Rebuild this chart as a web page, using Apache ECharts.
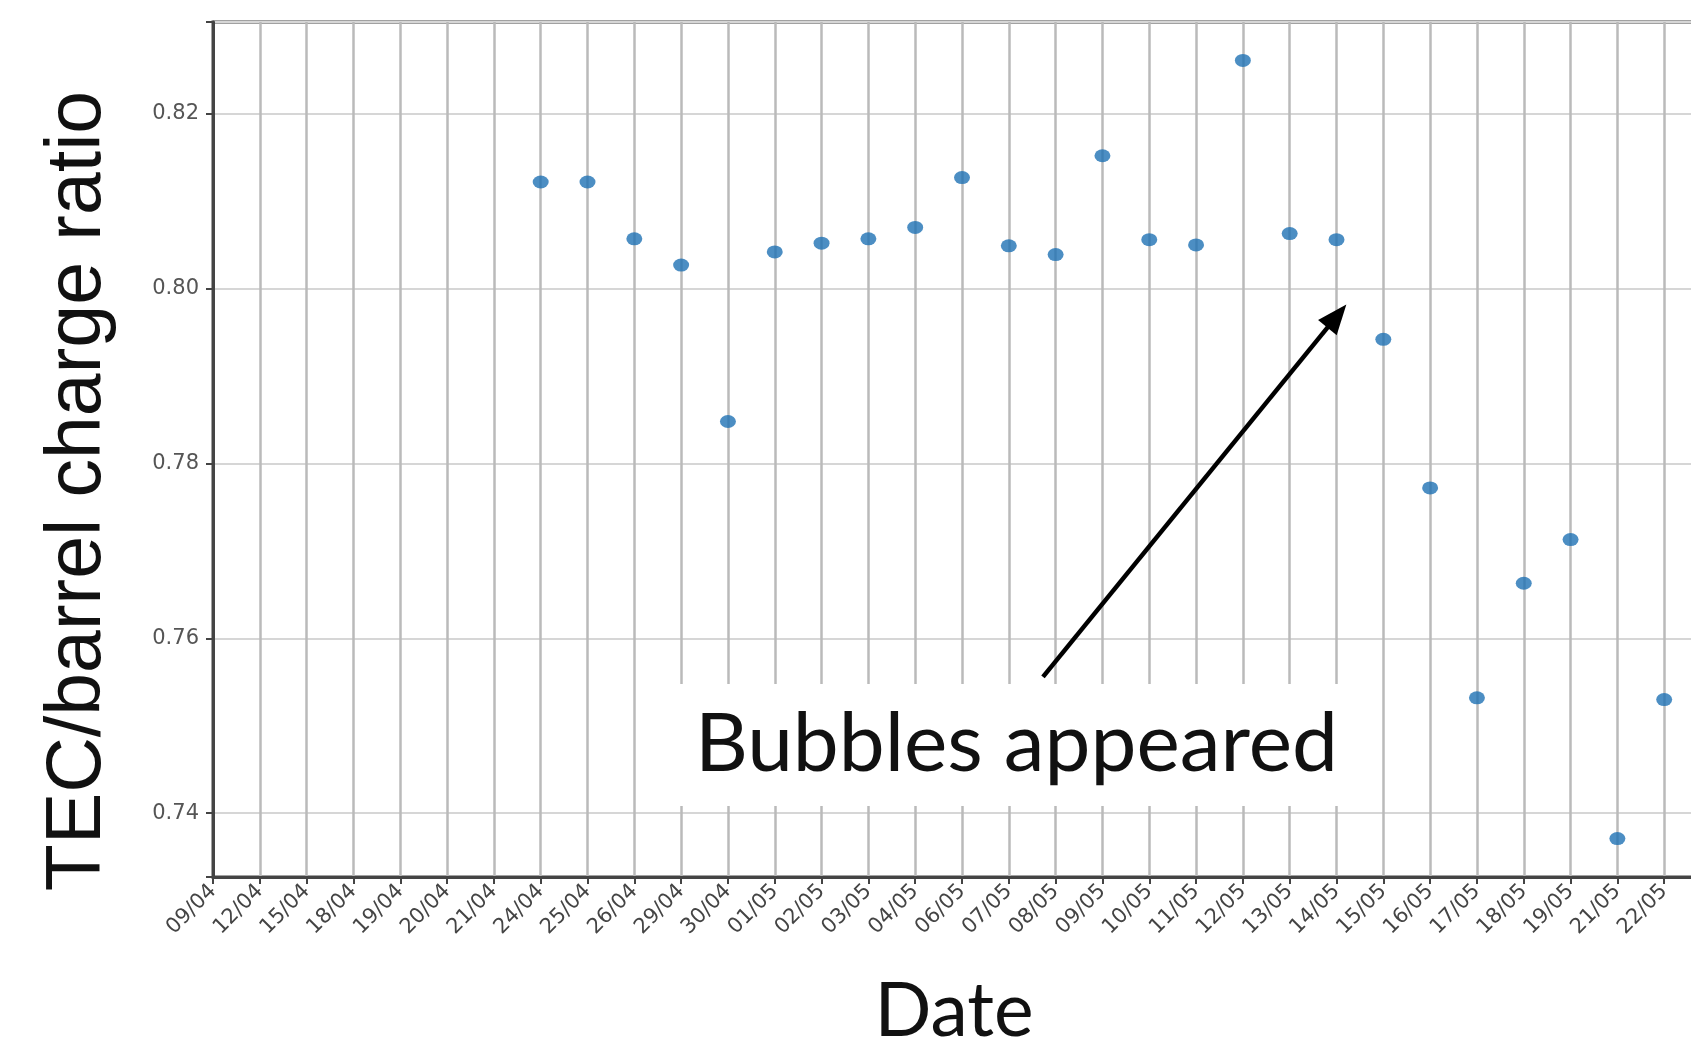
<!DOCTYPE html>
<html>
<head>
<meta charset="utf-8">
<title>TEC/barrel charge ratio</title>
<script src="https://cdn.jsdelivr.net/npm/echarts@6/dist/echarts.min.js"></script>
<style>
  html, body { margin: 0; padding: 0; background: #ffffff; }
  #chart { width: 1691px; height: 1046px; }
</style>
</head>
<body>
<div id="chart"></div>
<script>
// Measurement dates (category labels along the x axis)
const dates = [
  '09/04', '12/04', '15/04', '18/04', '19/04', '20/04', '21/04', '24/04',
  '25/04', '26/04', '29/04', '30/04', '01/05', '02/05', '03/05', '04/05',
  '06/05', '07/05', '08/05', '09/05', '10/05', '11/05', '12/05', '13/05',
  '14/05', '15/05', '16/05', '17/05', '18/05', '19/05', '21/05', '22/05'
];

// TEC/barrel charge ratio per date (null = no measurement)
const ratio = [
  null, null, null, null, null, null, null, 0.8122,
  0.8122, 0.8057, 0.8027, 0.7848, 0.8042, 0.8052, 0.8057, 0.8070,
  0.8127, 0.8049, 0.8039, 0.8152, 0.8056, 0.8050, 0.8261, 0.8063,
  0.8056, 0.7942, 0.7772, 0.7532, 0.7663, 0.7713, 0.7371, 0.7530
];

// Y axis range
const yMin = 0.7327;
const yMax = 0.8305;

// Annotation arrow, in axis coordinates [date index, ratio]
const arrowFrom = [17.73, 0.7556];
const arrowTip = [24.21, 0.7982];

const points = [];
ratio.forEach(function (v, i) {
  if (v !== null) points.push([i, v]);
});

const chart = echarts.init(document.getElementById('chart'), null, { renderer: 'canvas' });

chart.setOption({
  animation: false,
  backgroundColor: '#ffffff',
  grid: {
    left: 213,
    top: 22,
    bottom: 169,
    width: 1498,
    outerBoundsMode: 'none',
    containLabel: false,
    show: true,
    borderColor: '#444444',
    borderWidth: 3,
    backgroundColor: 'transparent'
  },
  xAxis: {
    type: 'value',
    min: 0,
    max: 32,
    interval: 1,
    axisLine: { show: true, onZero: false, lineStyle: { color: '#444444', width: 3 } },
    axisTick: { show: true, length: 7, lineStyle: { color: '#444444', width: 2 } },
    axisLabel: {
      rotate: 45,
      margin: 11,
      fontFamily: 'DejaVu Sans',
      fontSize: 21,
      color: '#444444',
      showMaxLabel: false,
      formatter: function (v) {
        const i = Math.round(v);
        return dates[i] !== undefined ? dates[i] : '';
      }
    },
    splitLine: { show: true, lineStyle: { color: '#bababa', width: 2.5 } }
  },
  yAxis: {
    type: 'value',
    min: yMin,
    max: yMax,
    splitNumber: 5,
    axisLine: { show: true, onZero: false, lineStyle: { color: '#444444', width: 3 } },
    axisTick: { show: true, length: 7, lineStyle: { color: '#444444', width: 2 } },
    axisLabel: {
      margin: 14,
      fontFamily: 'DejaVu Sans',
      fontSize: 21,
      color: '#555555',
      formatter: function (v) {
        const k = v * 50;
        return Math.abs(k - Math.round(k)) < 1e-6 ? v.toFixed(2) : '';
      }
    },
    splitLine: { show: true, lineStyle: { color: '#d6d6d6', width: 2 } }
  },
  series: [{
    type: 'scatter',
    data: points,
    symbol: 'circle',
    symbolSize: [16, 13],
    itemStyle: { color: '#1f72b4' },
    z: 3
  }]
});

// Arrow pointing at the date when bubbles appeared, placed through the axes
const p0 = chart.convertToPixel({ gridIndex: 0 }, arrowFrom);
const p1 = chart.convertToPixel({ gridIndex: 0 }, arrowTip);
const dx = p1[0] - p0[0];
const dy = p1[1] - p0[1];
const len = Math.sqrt(dx * dx + dy * dy);
const ux = dx / len;
const uy = dy / len;
const headLen = 30;
const headHalf = 12;
const base = [p1[0] - ux * headLen, p1[1] - uy * headLen];
const head = [
  [p1[0], p1[1]],
  [base[0] - uy * headHalf, base[1] + ux * headHalf],
  [base[0] + uy * headHalf, base[1] - ux * headHalf]
];

chart.setOption({
  graphic: [
    {
      type: 'line',
      z: 40,
      shape: { x1: p0[0], y1: p0[1], x2: base[0] + ux * 2, y2: base[1] + uy * 2 },
      style: { stroke: '#000000', lineWidth: 4.5 }
    },
    {
      type: 'polygon',
      z: 40,
      shape: { points: head },
      style: { fill: '#000000' }
    },
    {
      type: 'rect',
      z: 50,
      shape: { x: 677, y: 684, width: 671, height: 122 },
      style: { fill: '#ffffff' }
    },
    {
      type: 'text',
      z: 51,
      x: 695,
      y: 745,
      style: {
        text: 'Bubbles appeared',
        fontFamily: 'Lato',
        fontSize: 82,
        fill: '#111111',
        align: 'left',
        verticalAlign: 'middle'
      }
    },
    {
      type: 'text',
      z: 51,
      x: 954,
      y: 1012,
      style: {
        text: 'Date',
        fontFamily: 'Lato',
        fontSize: 75,
        fill: '#111111',
        align: 'center',
        verticalAlign: 'middle'
      }
    },
    {
      type: 'text',
      z: 51,
      x: 79,
      y: 491,
      rotation: Math.PI / 2,
      style: {
        text: 'TEC/barrel charge ratio',
        fontFamily: 'Liberation Sans',
        fontSize: 77,
        fill: '#111111',
        align: 'center',
        verticalAlign: 'middle'
      }
    }
  ]
});
</script>
</body>
</html>
